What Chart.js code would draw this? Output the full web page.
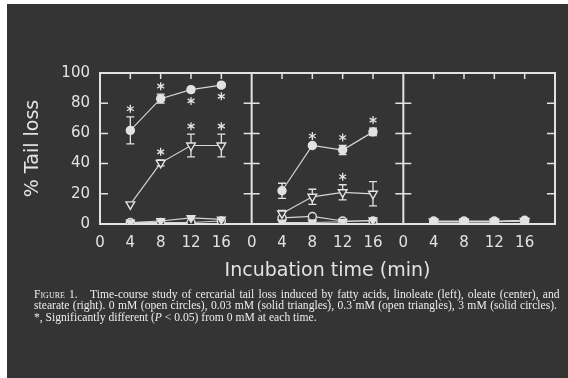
<!DOCTYPE html>
<html>
<head>
<meta charset="utf-8">
<script src="https://cdn.jsdelivr.net/npm/chart.js@4.4.1/dist/chart.umd.min.js"></script>
<style>
html, body { margin: 0; padding: 0; background: #fff; }
#wrap { position: absolute; left: 0; top: 0; width: 568px; height: 378px; overflow: hidden; }
#bg { position: absolute; left: 7px; top: 4px; right: 0; bottom: 0; background: #343434; }
#myChart { position: absolute; left: 0; top: 0; }
.cap { position: absolute; left: 34px; font-family: "Liberation Serif", "DejaVu Serif", serif;
       font-size: 11.6px; line-height: 12px; color: #ececec; white-space: nowrap; }
.sc { font-variant: small-caps; }
</style>
</head>
<body>
<div id="wrap">
  <div id="bg"></div>
  <canvas id="myChart" width="568" height="378"></canvas>
  <div class="cap fit" style="top:289px"><span class="sc">Figure 1.</span>&nbsp;&nbsp; Time-course study of cercarial tail loss induced by fatty acids, linoleate (left), oleate (center), and</div>
  <div class="cap fit" style="top:300px">stearate (right). 0 mM (open circles), 0.03 mM (solid triangles), 0.3 mM (open triangles), 3 mM (solid circles).</div>
  <div class="cap" style="top:312px">*, Significantly different (<i>P</i> &lt; 0.05) from 0 mM at each time.</div>
</div>
<script>
const fg = '#e2e2e2';
const bg = '#343434';

// three panels: linoleate, oleate, stearate
const panels = ['linoleate', 'oleate', 'stearate'];
const times = [4, 8, 12, 16];
const xTickLabels = ['0', '4', '8', '12', '16'];

// 0 mM (open circles)
const open0 = [[1, 1, 1, 2], [4, 5, 2, 2], [1.5, 1.5, 1.5, 2]];
// 0.03 mM (solid triangles)
const solid003 = [[1, 2, 4, 3], [1, 1, 1.5, 2.5], [1.5, 1.5, 1.5, 2]];
// 0.3 mM (open triangles)
const open03 = [[13, 40.5, 52, 52], [7, 18, 21, 20], [1.5, 1.5, 1.5, 2]];
const open03Err = [[0, 2, 7.5, 7.5], [2, 5, 5, 8], [0, 0, 0, 0]];
const open03Star = [['', 'up', 'up', 'up'], ['', '', 'up', ''], ['', '', '', '']];
// 3 mM (solid circles)
const solid3 = [[62, 83, 89, 92], [22, 52, 49, 61], [2, 2, 2, 2.5]];
const solid3Err = [[9, 3, 1.5, 1.5], [5, 1, 3, 2.5], [0, 0, 0, 0]];
const solid3Star = [['up', 'up', 'down', 'down'], ['', 'up', 'up', 'up'], ['', '', '', '']];

// stretch the two full caption lines to the same right edge
document.querySelectorAll('.cap.fit').forEach(el => {
    const gaps = (el.textContent.match(/ /g) || []).length;
    const extra = 523 - el.getBoundingClientRect().width;
    el.style.wordSpacing = (extra / gaps) + 'px';
});

// each panel is 20 units wide on one shared x axis
function series(vals, err, star) {
    const pts = [];
    vals.forEach((row, p) => {
        row.forEach((v, i) => {
            pts.push({x: p * 20 + times[i], y: v, err: err ? err[p][i] : 0, star: star ? star[p][i] : ''});
        });
        pts.push({x: p * 20 + 19, y: null});
    });
    return pts;
}

function ds(label, data, style, fill, radius) {
    return {
        label: label,
        data: data,
        borderColor: '#d6d6d6',
        borderWidth: 1.2,
        spanGaps: false,
        pointStyle: style,
        rotation: style === 'triangle' ? 180 : 0,
        pointRadius: radius,
        pointBackgroundColor: fill,
        pointBorderColor: fg,
        pointBorderWidth: 1.4
    };
}

const frame = {
    id: 'frame',
    beforeDatasetsDraw(chart) {
        const {ctx, chartArea: a, scales: {x, y}} = chart;
        ctx.save();
        ctx.strokeStyle = fg;
        ctx.lineWidth = 2;
        ctx.strokeRect(a.left, a.top, a.width, a.height);
        ctx.beginPath();
        for (let p = 1; p < panels.length; p++) {
            const px = x.getPixelForValue(p * 20);
            ctx.moveTo(px, a.top);
            ctx.lineTo(px, a.bottom);
        }
        ctx.stroke();
        ctx.lineWidth = 1.5;
        ctx.beginPath();
        for (let v = 20; v < 100; v += 20) {
            const py = y.getPixelForValue(v);
            for (let b = 0; b <= panels.length; b++) {
                const px = x.getPixelForValue(b * 20);
                if (b < panels.length) { ctx.moveTo(px, py); ctx.lineTo(px + 8, py); }
                if (b > 0) { ctx.moveTo(px, py); ctx.lineTo(px - 8, py); }
            }
        }
        for (let p = 0; p < panels.length; p++) {
            for (const t of times) {
                const px = x.getPixelForValue(p * 20 + t);
                ctx.moveTo(px, a.top);
                ctx.lineTo(px, a.top + 6);
            }
        }
        ctx.stroke();
        // error bars
        ctx.lineWidth = 1.3;
        ctx.beginPath();
        chart.data.datasets.forEach(d => d.data.forEach(pt => {
            if (!pt.err) return;
            const px = x.getPixelForValue(pt.x);
            const hi = y.getPixelForValue(pt.y + pt.err);
            const lo = y.getPixelForValue(pt.y - pt.err);
            ctx.moveTo(px, hi); ctx.lineTo(px, lo);
            ctx.moveTo(px - 4, hi); ctx.lineTo(px + 4, hi);
            ctx.moveTo(px - 4, lo); ctx.lineTo(px + 4, lo);
        }));
        ctx.stroke();
        ctx.restore();
    },
    afterDatasetsDraw(chart) {
        const {ctx, scales: {x, y}} = chart;
        ctx.save();
        ctx.strokeStyle = fg;
        ctx.lineWidth = 1.3;
        ctx.beginPath();
        chart.data.datasets.forEach(d => d.data.forEach(pt => {
            if (!pt.star) return;
            const px = x.getPixelForValue(pt.x);
            const cy = pt.star === 'up' ? y.getPixelForValue(pt.y + pt.err) - 8 : y.getPixelForValue(pt.y - pt.err) + 9;
            for (let k = 0; k < 3; k++) {
                const ang = Math.PI / 2 + k * Math.PI / 3;
                ctx.moveTo(px - 4 * Math.cos(ang), cy - 4 * Math.sin(ang));
                ctx.lineTo(px + 4 * Math.cos(ang), cy + 4 * Math.sin(ang));
            }
        }));
        ctx.stroke();
        ctx.restore();
    }
};

new Chart(document.getElementById('myChart'), {
    type: 'line',
    data: {
        datasets: [
            ds('3 mM', series(solid3, solid3Err, solid3Star), 'circle', fg, 4),
            ds('0.3 mM', series(open03, open03Err, open03Star), 'triangle', bg, 5),
            ds('0.03 mM', series(solid003), 'triangle', fg, 4.5),
            ds('0 mM', series(open0), 'circle', bg, 4)
        ]
    },
    options: {
        responsive: false,
        animation: false,
        layout: { padding: { top: 73, right: 13, bottom: 88, left: 0 } },
        plugins: { legend: { display: false }, tooltip: { enabled: false } },
        scales: {
            x: {
                type: 'linear',
                min: 0,
                max: 60,
                afterFit: s => { s.height = 66; },
                grid: { display: false, drawTicks: false },
                border: { display: false },
                ticks: {
                    stepSize: 4,
                    autoSkip: false,
                    maxRotation: 0,
                    padding: 10,
                    color: fg,
                    font: { family: 'DejaVu Sans', size: 15 },
                    callback: v => v >= 60 ? '' : xTickLabels[(v % 20) / 4]
                },
                title: {
                    display: true,
                    text: 'Incubation time (min)',
                    color: fg,
                    font: { family: 'DejaVu Sans', size: 19 },
                    padding: { top: 0, bottom: 8 }
                }
            },
            y: {
                min: 0,
                max: 100,
                afterFit: s => { s.width = 100; },
                grid: { display: false, drawTicks: false },
                border: { display: false },
                ticks: {
                    stepSize: 20,
                    padding: 10,
                    color: fg,
                    font: { family: 'DejaVu Sans', size: 15 }
                },
                title: {
                    display: true,
                    text: '% Tail loss',
                    color: fg,
                    font: { family: 'DejaVu Sans', size: 19 },
                    padding: { top: 22, bottom: 0 }
                }
            }
        }
    },
    plugins: [frame]
});
</script>
</body>
</html>
